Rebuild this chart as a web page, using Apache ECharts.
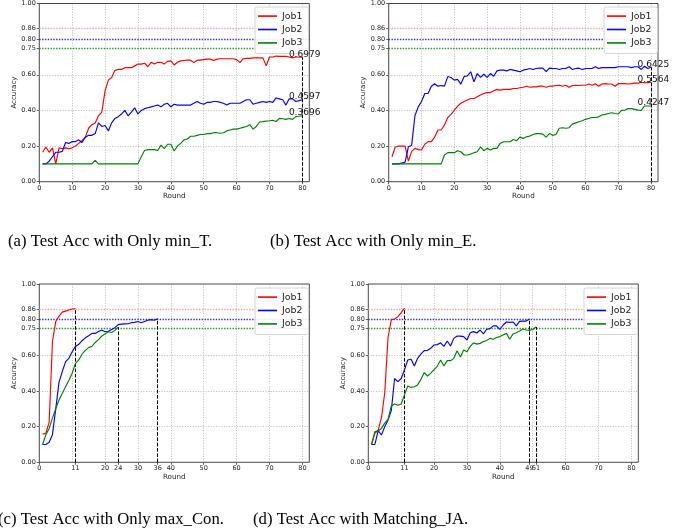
<!DOCTYPE html>
<html><head><meta charset="utf-8">
<script src="https://cdn.jsdelivr.net/npm/echarts@6/dist/echarts.min.js"></script>
<style>html,body{margin:0;padding:0;background:#fff}#c{width:692px;height:529px}</style>
</head><body><div id="c"></div>
<script>
const jobNames = ['Job1', 'Job2', 'Job3'];
const targets = [0.86, 0.80, 0.75];
const yLabelValues = [0, 0.2, 0.4, 0.6, 0.75, 0.8, 0.86, 1.0];
const yGridValues = [0.2, 0.4, 0.6];
const xGridValues = [10, 20, 30, 40, 50, 60, 70, 80];
const xLabelsA = [0, 10, 20, 30, 40, 50, 60, 70, 80];
const xLabelsB = [0, 10, 20, 30, 40, 50, 60, 70, 80];
const xLabelsC = [0, 11, 20, 24, 30, 36, 40, 50, 60, 70, 80];
const xLabelsD = [0, 11, 20, 30, 40, 49, 51, 60, 70, 80];
const captions = ['(a) Test Acc with Only min_T.', '(b) Test Acc with Only min_E.',
                  '(c) Test Acc with Only max_Con.', '(d) Test Acc with Matching_JA.'];

const a_job1 = [0.165,0.195,0.165,0.19,0.10,0.19,0.185,0.19,0.185,0.19,
  0.20,0.215,0.23,0.25,0.30,0.32,0.33,0.37,0.39,0.51,
  0.57,0.585,0.625,0.63,0.63,0.64,0.64,0.64,0.65,0.66,
  0.66,0.665,0.645,0.67,0.66,0.67,0.67,0.66,0.675,0.678,
  0.655,0.67,0.678,0.68,0.682,0.682,0.668,0.682,0.682,0.685,
  0.688,0.688,0.68,0.688,0.69,0.69,0.69,0.69,0.69,0.685,
  0.668,0.69,0.692,0.692,0.695,0.695,0.695,0.695,0.65,0.70,
  0.70,0.705,0.703,0.703,0.703,0.70,0.695,0.70,0.70,0.6979];
const a_job2 = [0.10,0.10,0.115,0.14,0.165,0.165,0.17,0.22,0.215,0.225,
  0.225,0.235,0.22,0.25,0.26,0.26,0.27,0.33,0.31,0.315,
  0.285,0.33,0.355,0.365,0.38,0.40,0.37,0.39,0.415,0.38,
  0.40,0.41,0.415,0.42,0.425,0.43,0.42,0.435,0.44,0.42,
  0.435,0.43,0.43,0.43,0.43,0.43,0.44,0.45,0.44,0.435,
  0.445,0.445,0.45,0.45,0.445,0.44,0.43,0.44,0.44,0.44,
  0.44,0.45,0.46,0.46,0.435,0.44,0.445,0.45,0.445,0.45,
  0.445,0.47,0.465,0.46,0.43,0.465,0.465,0.45,0.455,0.4597];
const a_job3 = [0.10,0.10,0.10,0.10,0.10,0.10,0.10,0.10,0.10,0.10,
  0.10,0.10,0.10,0.10,0.10,0.10,0.12,0.10,0.10,0.10,
  0.10,0.10,0.10,0.10,0.10,0.10,0.10,0.10,0.10,0.10,
  0.14,0.175,0.18,0.18,0.18,0.175,0.205,0.185,0.21,0.21,
  0.172,0.20,0.215,0.235,0.24,0.255,0.255,0.26,0.265,0.265,
  0.27,0.27,0.275,0.275,0.272,0.275,0.285,0.29,0.295,0.295,
  0.30,0.305,0.31,0.32,0.295,0.31,0.335,0.337,0.34,0.342,
  0.345,0.338,0.355,0.353,0.35,0.355,0.35,0.365,0.367,0.3696];

const b_job1 = [0.14,0.195,0.20,0.20,0.20,0.116,0.17,0.187,0.18,0.178,
  0.21,0.225,0.225,0.25,0.29,0.29,0.318,0.36,0.378,0.40,
  0.424,0.44,0.45,0.458,0.467,0.467,0.477,0.486,0.495,0.50,
  0.50,0.51,0.518,0.514,0.518,0.518,0.518,0.523,0.523,0.527,
  0.53,0.536,0.53,0.532,0.532,0.536,0.536,0.53,0.536,0.536,
  0.54,0.541,0.536,0.541,0.53,0.54,0.541,0.54,0.541,0.541,
  0.548,0.541,0.55,0.536,0.548,0.55,0.548,0.548,0.536,0.55,
  0.55,0.55,0.548,0.55,0.553,0.553,0.558,0.555,0.556,0.5564];
const b_job2 = [0.10,0.10,0.10,0.105,0.11,0.196,0.205,0.37,0.42,0.45,
  0.495,0.495,0.536,0.55,0.536,0.54,0.536,0.59,0.585,0.57,
  0.574,0.548,0.59,0.594,0.617,0.56,0.607,0.585,0.603,0.585,
  0.607,0.592,0.622,0.626,0.626,0.622,0.63,0.626,0.622,0.617,
  0.626,0.63,0.635,0.63,0.635,0.637,0.637,0.618,0.637,0.635,
  0.635,0.63,0.635,0.635,0.645,0.63,0.635,0.637,0.63,0.635,
  0.635,0.635,0.645,0.635,0.64,0.64,0.64,0.64,0.64,0.645,
  0.645,0.645,0.645,0.64,0.645,0.645,0.63,0.648,0.635,0.6425];
const b_job3 = [0.10,0.10,0.10,0.10,0.10,0.10,0.10,0.10,0.10,0.10,
  0.10,0.10,0.10,0.10,0.10,0.10,0.15,0.163,0.163,0.163,
  0.174,0.168,0.15,0.15,0.155,0.163,0.168,0.196,0.174,0.187,
  0.178,0.187,0.187,0.215,0.224,0.224,0.224,0.237,0.23,0.25,
  0.243,0.252,0.256,0.265,0.27,0.27,0.267,0.25,0.27,0.26,
  0.265,0.30,0.303,0.30,0.303,0.323,0.33,0.336,0.342,0.35,
  0.355,0.36,0.36,0.364,0.374,0.378,0.383,0.387,0.383,0.38,
  0.40,0.402,0.41,0.41,0.406,0.402,0.40,0.425,0.425,0.4247];

const c_job1 = [0.158,0.163,0.225,0.677,0.79,0.82,0.842,0.848,0.854,0.86,0.862];
const c_job2 = [0.10,0.10,0.112,0.155,0.30,0.45,0.51,0.565,0.583,0.62,
  0.65,0.662,0.682,0.698,0.71,0.723,0.723,0.733,0.742,0.732,
  0.735,0.745,0.755,0.772,0.775,0.776,0.777,0.783,0.785,0.79,
  0.783,0.79,0.797,0.80,0.797,0.805];
const c_job3 = [0.10,0.155,0.19,0.248,0.30,0.35,0.387,0.424,0.46,0.50,
  0.555,0.574,0.606,0.628,0.643,0.65,0.672,0.688,0.708,0.72,
  0.732,0.728,0.74,0.758];

const d_job1 = [0.10,0.163,0.18,0.25,0.39,0.70,0.80,0.804,0.817,0.84,0.864];
const d_job2 = [0.10,0.10,0.178,0.153,0.20,0.237,0.29,0.47,0.452,0.47,
  0.518,0.574,0.578,0.54,0.583,0.607,0.626,0.628,0.64,0.658,
  0.66,0.67,0.65,0.68,0.652,0.695,0.708,0.708,0.705,0.686,
  0.727,0.733,0.725,0.742,0.72,0.746,0.75,0.765,0.765,0.745,
  0.77,0.787,0.785,0.787,0.765,0.79,0.792,0.792,0.804];
const d_job3 = [0.10,0.172,0.176,0.19,0.22,0.24,0.316,0.327,0.32,0.327,
  0.378,0.428,0.42,0.424,0.434,0.465,0.503,0.484,0.50,0.52,
  0.54,0.574,0.54,0.57,0.57,0.583,0.626,0.59,0.63,0.62,
  0.65,0.67,0.663,0.667,0.677,0.683,0.695,0.69,0.70,0.705,
  0.714,0.723,0.69,0.72,0.727,0.736,0.748,0.742,0.74,0.745,0.759];

const FONT = 'DejaVu Sans';
const colors = ['#ff0000', '#0000ff', '#008000'];
const refColors = ['#ffa0a0', '#3030ff', '#2a962a'];

const panels = [
  {series: [a_job1, a_job2, a_job3], xLabels: xLabelsA, mode: 'end',
   grid: {left: 39.3, top: 3.3, width: 270, height: 178.4}, legend: {left: 255, top: 7},
   caption: {x: 8, y: 241.5}},
  {series: [b_job1, b_job2, b_job3], xLabels: xLabelsB, mode: 'end',
   grid: {left: 388.7, top: 3.3, width: 269.3, height: 178.4}, legend: {left: 604, top: 7},
   caption: {x: 270, y: 241.5}},
  {series: [c_job1, c_job2, c_job3], xLabels: xLabelsC, mode: 'target',
   grid: {left: 39.3, top: 284, width: 270, height: 178.3}, legend: {left: 255, top: 288},
   caption: {x: -2, y: 520}},
  {series: [d_job1, d_job2, d_job3], xLabels: xLabelsD, mode: 'target',
   grid: {left: 368.3, top: 284, width: 270, height: 178.3}, legend: {left: 584, top: 288},
   caption: {x: 253, y: 520}}
];

const gridStyle = {color: '#b3b3b3', type: [1, 1.6], width: 0.9};
const grids = [], xAxes = [], yAxes = [], legends = [], series = [], graphics = [];

panels.forEach((p, i) => {
  grids.push(Object.assign({show: true, borderColor: '#333', borderWidth: 0.9, containLabel: false}, p.grid));
  xAxes.push({
    type: 'value', gridIndex: i, min: 0, max: 82.1, interval: 10,
    name: 'Round', nameLocation: 'middle', nameGap: 9.5,
    nameTextStyle: {fontSize: 7.2, color: '#222', fontFamily: FONT},
    axisLine: {show: false},
    axisTick: {show: true, length: 2.5, customValues: p.xLabels, lineStyle: {color: '#333', width: 0.8}},
    axisLabel: {customValues: p.xLabels, fontSize: 6.5, color: '#222', margin: 3, fontFamily: FONT,
                formatter: v => String(v)},
    splitLine: {show: false}
  });
  yAxes.push({
    type: 'value', gridIndex: i, min: 0, max: 1, interval: 0.2,
    name: 'Accuracy', nameLocation: 'middle', nameGap: 19.5,
    nameTextStyle: {fontSize: 7, color: '#222', fontFamily: FONT},
    axisLine: {show: false},
    axisTick: {show: true, length: 2.5, customValues: yLabelValues, lineStyle: {color: '#333', width: 0.8}},
    axisLabel: {customValues: yLabelValues, fontSize: 6.5, color: '#222', margin: 3.5, fontFamily: FONT,
                formatter: v => Number(v).toFixed(2)},
    splitLine: {show: false}
  });
  legends.push({
    data: jobNames, orient: 'vertical', left: p.legend.left, top: p.legend.top, z: 4,
    icon: 'rect', itemWidth: 19, itemHeight: 1.6, itemGap: 2.2,
    padding: [3.5, 6, 5, 3],
    backgroundColor: 'rgba(255,255,255,0.88)', borderColor: '#d4d4d4', borderWidth: 1, borderRadius: 2,
    textStyle: {fontSize: 9.4, color: '#222', fontFamily: FONT, lineHeight: 11.2},
    selectedMode: false
  });
  const lasts = p.series.map(s => s[s.length - 1]);
  const maxLast = Math.max(...lasts);
  // per-panel guide lines: grid, target levels, and dashed drops at the end rounds
  const guide = [];
  yGridValues.forEach(v => guide.push({yAxis: v, lineStyle: {color: '#b3b3b3', type: [1, 1.6], width: 0.9}}));
  xGridValues.forEach(v => guide.push({xAxis: v, lineStyle: {color: '#b3b3b3', type: [1, 1.6], width: 0.9}}));
  targets.forEach((t, k) => guide.push({yAxis: t, lineStyle: {color: refColors[k], type: [1.4, 1.4], width: 1.4}}));
  p.series.forEach((data, k) => {
    const n = data.length;
    if (p.mode === 'target' || lasts[k] === maxLast) {
      const top = p.mode === 'target' ? data[n - 1] : maxLast;
      guide.push([{coord: [n, 0], lineStyle: {color: '#000', type: [3.7, 1.6], width: 1}}, {coord: [n, top]}]);
    }
  });
  series.push({
    type: 'line', name: 'guide' + i, xAxisIndex: i, yAxisIndex: i, data: [], silent: true,
    animation: false, z: 1,
    markLine: {silent: true, symbol: ['none', 'none'], label: {show: false}, animation: false, z: 1,
               lineStyle: gridStyle, data: guide}
  });
  p.series.forEach((data, k) => {
    const n = data.length;
    const s = {
      type: 'line', name: jobNames[k], xAxisIndex: i, yAxisIndex: i,
      data: data.map((v, j) => [j + 1, v]),
      showSymbol: false, symbol: 'none', animation: false,
      lineStyle: {color: colors[k], width: 1.15}, itemStyle: {color: colors[k]},
      z: 3
    };
    if (p.mode === 'end') {
      s.markPoint = {
        silent: true, animation: false, symbol: 'circle', symbolSize: 0, z: 30,
        data: [{coord: [n, data[n - 1]], value: data[n - 1]}],
        label: {show: true, position: 'top', distance: 0, align: 'left', offset: [-13.5, 1.5],
                formatter: q => Number(q.value).toFixed(4), fontSize: 9, color: '#111', fontFamily: FONT}
      };
    }
    series.push(s);
  });
  graphics.push({
    type: 'text', x: p.caption.x, y: p.caption.y,
    style: {text: captions[i], fontSize: 16.7, fontFamily: 'Liberation Serif', fill: '#000',
            textVerticalAlign: 'middle', textAlign: 'left'}
  });
});

const chart = echarts.init(document.getElementById('c'), null, {renderer: 'canvas'});
chart.setOption({
  backgroundColor: '#fff',
  animation: false,
  textStyle: {fontFamily: FONT},
  grid: grids, xAxis: xAxes, yAxis: yAxes, legend: legends, series: series,
  graphic: graphics
});
</script></body></html>
